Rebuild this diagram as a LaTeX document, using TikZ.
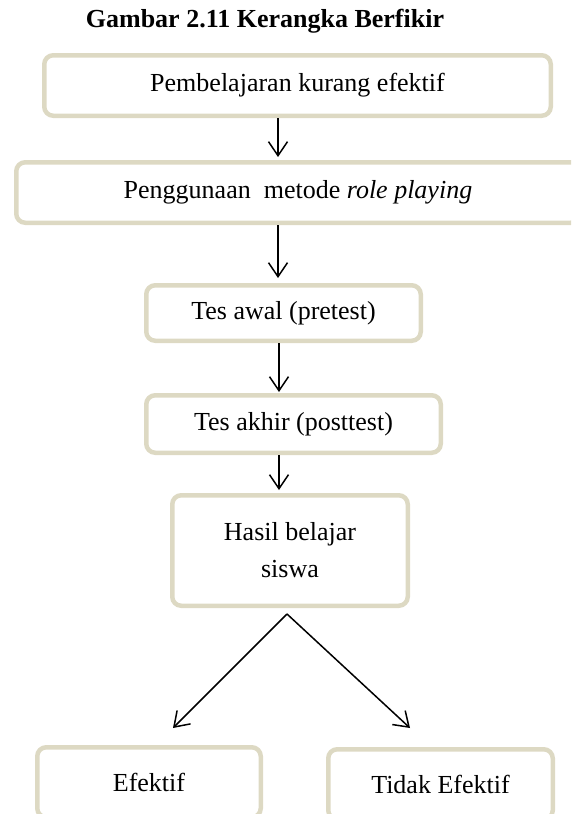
\documentclass[tikz,border=0pt]{standalone}
\usepackage{fontspec}
\setmainfont{Liberation Serif}
\usepackage{tikz}
\usetikzlibrary{arrows.meta,positioning,calc}
\definecolor{boxline}{HTML}{DDD9C3}

\begin{document}
\begin{tikzpicture}[>={Straight Barb[length=14pt,width=19pt]}]
\tikzstyle{box}=[draw=boxline, line width=4.5pt, rounded corners=9pt, align=center, inner sep=0pt, font=\fontsize{26}{37}\selectfont]
\tikzstyle{arr}=[->, line width=1.5pt]
\useasboundingbox (0,0) rectangle (571pt,-814pt);
\clip (0,0) rectangle (571pt,-814pt);

\node[anchor=base, font=\bfseries\fontsize{26}{30}\selectfont] (title) at (265pt,-27pt) {Gambar 2.11 Kerangka Berfikir};
\node[box, minimum width=506.5pt, minimum height=60.5pt] (pemb) at (297.5pt,-85.5pt) {Pembelajaran kurang efektif};
\node[box, minimum width=563.5pt, minimum height=60.5pt, below=42pt of pemb, xshift=0.5pt] (metode) {Penggunaan~ metode \textit{role playing}};
\node[box, minimum width=274.5pt, minimum height=55.5pt, below=58pt of metode, xshift=-14.5pt] (pretest) {Tes awal (pretest)};
\node[box, minimum width=294.5pt, minimum height=57.5pt, below=50pt of pretest, xshift=10pt] (posttest) {Tes akhir (posttest)};
\node[box, minimum width=235.5pt, minimum height=110.5pt, below=38pt of posttest, xshift=-3.5pt] (hasil) {Hasil belajar\\siswa};
\node[box, minimum width=223.5pt, minimum height=70pt, below=137pt of hasil, xshift=-141pt] (efektif) {Efektif};
\node[box, minimum width=224.5pt, minimum height=70pt, below=139pt of hasil, xshift=150.5pt] (tidak) {Tidak Efektif};
\coordinate[below=6pt of hasil, xshift=-3pt] (cabang);

\draw[arr] ([xshift=-19.5pt]pemb.south) -- ([xshift=-20pt,yshift=3pt]metode.north);
\draw[arr] ([xshift=-20pt]metode.south) -- ([xshift=-5.5pt,yshift=5pt]pretest.north);
\draw[arr] ([xshift=-4.5pt]pretest.south) -- ([xshift=-14.5pt,yshift=1pt]posttest.north);
\draw[arr] ([xshift=-14.5pt]posttest.south) -- ([xshift=-11pt,yshift=3pt]hasil.north);
\draw[arr] (cabang) -- ([xshift=24pt,yshift=17pt]efektif.north);
\draw[arr] (cabang) -- ([xshift=-30.5pt,yshift=19pt]tidak.north);
\end{tikzpicture}
\end{document}
